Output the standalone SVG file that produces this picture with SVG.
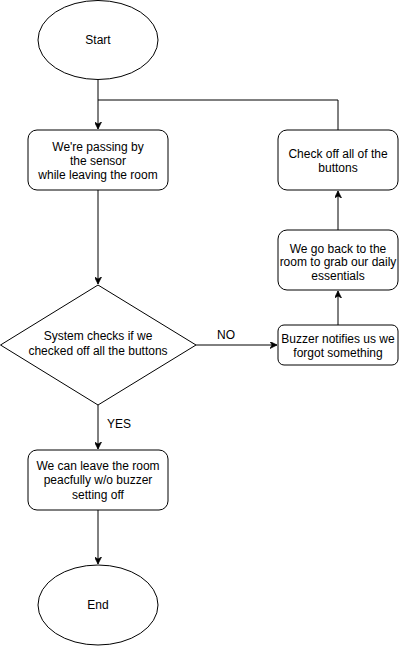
<svg xmlns="http://www.w3.org/2000/svg" width="400" height="646" viewBox="0 0 400 646">
<style>
.shape{fill:#fff;stroke:#000;stroke-width:1}
.edge{fill:none;stroke:#000;stroke-width:1}
text{font-family:"Liberation Sans",Arial,Helvetica,sans-serif;font-size:12px;fill:#000;text-anchor:middle}
.lbl{text-anchor:start}
</style>
<defs>
<marker id="arr" viewBox="0 0 10 10" refX="10" refY="5" markerWidth="7" markerHeight="7" markerUnits="userSpaceOnUse" orient="auto">
<path d="M0,0 L10,5 L0,10 L3,5 Z" fill="#000" stroke="#000" stroke-width="1"/>
</marker>
</defs>
<rect width="400" height="646" fill="#fff"/>
<g id="connectors">
<path class="edge" d="M98,80 V129" marker-end="url(#arr)"/>
<path class="edge" d="M338,130 V100 H98"/>
<path class="edge" d="M98,190 V284" marker-end="url(#arr)"/>
<path class="edge" d="M196,345 H277" marker-end="url(#arr)"/>
<path class="edge" d="M338,325 V291" marker-end="url(#arr)"/>
<path class="edge" d="M338,230 V191" marker-end="url(#arr)"/>
<path class="edge" d="M98,405 V449" marker-end="url(#arr)"/>
<path class="edge" d="M98,510 V564" marker-end="url(#arr)"/>
<text class="lbl" x="217" y="339">NO</text>
<text class="lbl" x="107" y="428">YES</text>
</g>
<g id="start">
<ellipse class="shape" cx="98" cy="40" rx="60" ry="39.5"/>
<text x="98" y="44">Start</text>
</g>
<g id="passing">
<rect class="shape" x="28" y="130" width="140" height="60" rx="9"/>
<text x="98" y="151">We're passing by</text>
<text x="98" y="165">the sensor</text>
<text x="98" y="179">while leaving the room</text>
</g>
<g id="checkoff">
<rect class="shape" x="278" y="130" width="120" height="60" rx="9"/>
<text x="338" y="157.5">Check off all of the</text>
<text x="338" y="171.5">buttons</text>
</g>
<g id="goback">
<rect class="shape" x="278" y="230" width="120" height="60" rx="9"/>
<text x="338" y="252.5">We go back to the</text>
<text x="338" y="266">room to grab our daily</text>
<text x="338" y="279.5">essentials</text>
</g>
<g id="decision">
<path class="shape" d="M98,285 L196,345 L98,405 L0.5,345 Z"/>
<text x="98" y="340">System checks if we</text>
<text x="98" y="355">checked off all the buttons</text>
</g>
<g id="buzzer">
<rect class="shape" x="278" y="325" width="120" height="40" rx="6"/>
<text x="338" y="342.5">Buzzer notifies us we</text>
<text x="338" y="356.5">forgot something</text>
</g>
<g id="leave">
<rect class="shape" x="28" y="450" width="140" height="60" rx="9"/>
<text x="98" y="469.5">We can leave the room</text>
<text x="98" y="484">peacfully w/o buzzer</text>
<text x="98" y="498.5">setting off</text>
</g>
<g id="end">
<ellipse class="shape" cx="98" cy="605" rx="60" ry="40"/>
<text x="98" y="609">End</text>
</g>
</svg>
